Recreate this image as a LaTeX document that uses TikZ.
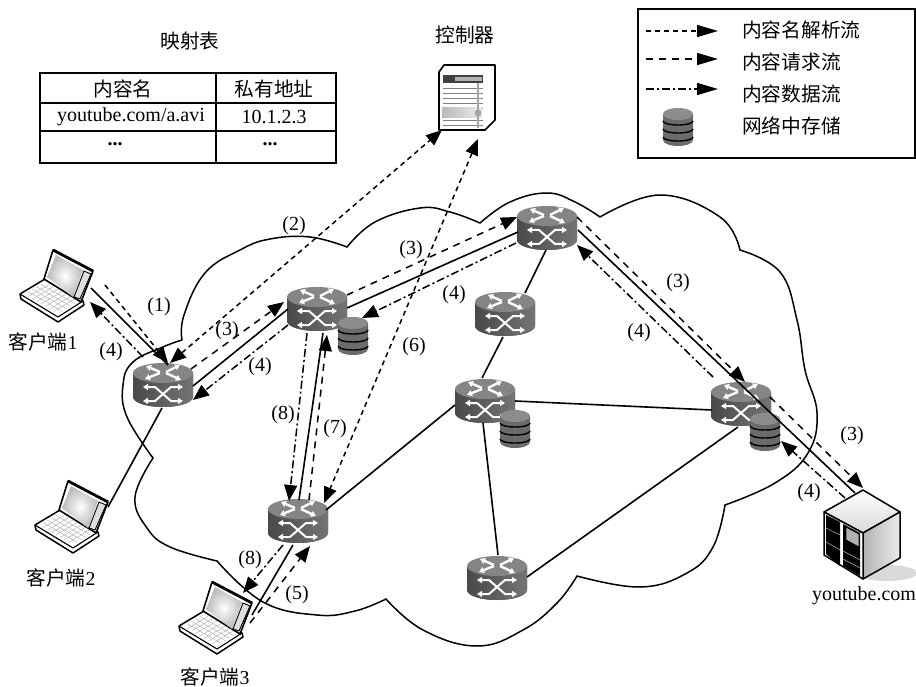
\documentclass[tikz,border=0pt]{standalone}
\usepackage{fontspec}
\setmainfont{Liberation Serif}
\newfontfamily\cjk{Noto Sans CJK SC}
\usetikzlibrary{arrows.meta,calc,shapes.geometric}
\definecolor{rtop}{gray}{0.52}
\definecolor{rbody}{gray}{0.36}
\definecolor{dbtop}{gray}{0.55}
\definecolor{dbbody}{gray}{0.42}
\tikzset{
  tip/.style={-{Triangle[length=16pt,width=13pt]}},
  twotip/.style={{Triangle[length=16pt,width=13pt]}-{Triangle[length=16pt,width=13pt]}},
  legtip/.style={-{Triangle[length=21pt,width=12pt]}},
  solidlink/.style={line width=1.6pt,black},
  cloudline/.style={line width=1.5pt,black},
  resolveflow/.style={line width=1.5pt,dash pattern=on 5pt off 4pt},
  requestflow/.style={line width=1.5pt,dash pattern=on 7pt off 6pt},
  dataflow/.style={line width=1.5pt,dash pattern=on 8pt off 3pt on 2pt off 3pt},
  devbox/.style={inner sep=0pt,outer sep=0pt,minimum width=#1,minimum height=#1},
  lbl/.style={inner sep=0pt,font=\fontsize{20}{20}\selectfont},
  cjklbl/.style={inner sep=0pt,font=\cjk\fontsize{19.7}{20}\selectfont},
  wharrow/.style={white,line width=2pt,{Triangle[length=5pt,width=6pt]}-{Triangle[length=5pt,width=6pt]}},
  whtip/.style={white,line width=2.4pt,-{Triangle[length=5pt,width=6pt]}},
  pics/router/.style={code={
    \path[fill=rbody,left color=rbody!80!black,right color=rbody!85!white] (-30,-12) -- (-30,12) arc[start angle=180,end angle=0,x radius=30,y radius=10] -- (30,-12) -- cycle;
    \fill[rtop] (0,-12) ellipse[x radius=30,y radius=10];
    \draw[whtip] (-3,-13) -- (-17,-19);
    \draw[whtip] (3,-13) -- (17,-20);
    \draw[whtip] (-3,-12) -- (-18,-6);
    \draw[whtip] (3,-12) -- (18,-5);
    \draw[wharrow] (-20,2) -- (-8,2) -- (8,16) -- (20,16);
    \draw[wharrow] (-20,16) -- (-8,16) -- (8,2) -- (20,2);
  }},
  pics/storedb/.style={code={
    \fill[dbbody] (-15,-13) -- (-15,13) arc[start angle=180,end angle=0,x radius=15,y radius=6] -- (15,-13) -- cycle;
    \fill[dbtop] (0,-13) ellipse[x radius=15,y radius=6];
    \foreach \yy in {-6,2,10}{
      \draw[line width=1.4pt] (-15,\yy) arc[start angle=180,end angle=0,x radius=15,y radius=4];
    }
  }},
  pics/laptop/.style={code={
    \draw[line width=1.5pt,fill=white,line join=round] (-40,9) -- (-39,14) -- (-2,37) -- (24,20) -- (23,16) -- (-15,-6) -- cycle;
    \draw[line width=1.1pt] (-40,9) -- (-2,32) -- (23,16);
    \foreach \i in {1,...,7}{
      \draw[gray!60,line width=.5pt] ($(-15,-3)!\i/8!(19,16)$) -- ($(-36,9)!\i/8!(-2,29)$);
    }
    \foreach \i in {1,...,4}{
      \draw[gray!60,line width=.5pt] ($(-15,-3)!\i/5!(-36,9)$) -- ($(19,16)!\i/5!(-2,29)$);
    }
    \draw[line width=1.6pt,fill=white,line join=round] (-7,-35) -- (33,-14) -- (21,17) -- (-16,-6) -- cycle;
    \draw[line width=2.8pt] (-7,-35) -- (33,-14);
    \path[inner color=white,outer color=gray!55] (-4,-30) -- (23,-15) -- (13,12) -- (-13,-8) -- cycle;
    \draw[line width=.9pt,fill=gray!25] (24,-14) -- (31,-11) -- (20,14) -- (14,12) -- cycle;
  }},
  pics/serverbox/.style={code={
    \fill[gray!30] (25,38) ellipse[x radius=30,y radius=8];
    \draw[line width=1.5pt,line join=round,bottom color=gray!30,top color=white] (1,-45) -- (-38,-23) -- (1,-2) -- (38,-23) -- cycle;
    \draw[line width=1.5pt,line join=round,left color=gray!60,right color=gray!15] (1,-2) -- (38,-23) -- (38,23) -- (1,44) -- cycle;
    \draw[line width=1.5pt,line join=round,fill=white] (-38,-23) -- (1,-2) -- (1,44) -- (-38,20) -- cycle;
    \fill[black] (-36,-20) -- (-22,-13) -- (-22,31) -- (-36,19) -- cycle;
    \fill[black] (-19,-11) -- (-2,-2) -- (-2,41) -- (-19,31) -- cycle;
    \draw[gray!70,line width=.6pt] (-36,-7) -- (-22,0) (-36,7) -- (-22,15) (-19,16) -- (-2,25) (-19,24) -- (-2,33);
    \draw[fill=gray!60,line width=.8pt] (-16,-8) -- (-3,-1) -- (-3,12) -- (-16,5) -- cycle;
  }},
  pics/ctrldoc/.style={code={
    \draw[line width=1.7pt,fill=white,line join=round] (-23,-32) -- (28,-32) -- (28,23) -- (18,33) -- (-28,33) -- (-28,-25) -- cycle;
    \fill[black!75] (-24,-22) rectangle (16,-14);
    \fill[gray!60] (-12,-20) rectangle (15,-16);
    \foreach \yy in {-9,-4,1,6,11,23,28}{
      \draw[gray,line width=.6pt] (-24,\yy) -- (16,\yy);
    }
    \fill[left color=gray!55,right color=gray!15] (-25,11) rectangle (15,21);
    \draw[gray!70,line width=1.6pt] (11,-14) -- (11,31);
    \fill[gray!70] (11,16) circle[radius=3.5];
  }},
}
\newcommand\routerat[3]{\node[devbox=45pt,minimum width=60pt] (#1) at (#2,#3) {};\pic at (#1) {router};}
\newcommand\dbat[3]{\node[devbox=30pt] (#1) at (#2,#3) {};\pic at (#1) {storedb};}
\newcommand\laptopat[3]{\node[devbox=60pt] (#1) at (#2,#3) {};\pic at (#1) {laptop};}
\begin{document}
\begin{tikzpicture}[x=1pt,y=-1pt]
\useasboundingbox (0,0) rectangle (916,687);
\fill[white] (0,0) rectangle (916,687);
% cloud
\draw[cloudline,line cap=round] plot[smooth,tension=.7] coordinates {(182,340) (163,347) (133,362) (123,385) (127,417) (153,458)};
\draw[cloudline,line cap=round] plot[smooth,tension=.7] coordinates {(153,458) (135,497) (147,528) (170,547) (217,561)};
\draw[cloudline,line cap=round] plot[smooth,tension=.7] coordinates {(217,561) (263,602) (317,615) (355,611) (386,599)};
\draw[cloudline,line cap=round] plot[smooth,tension=.7] coordinates {(386,599) (423,630) (477,646) (523,630) (557,603) (577,576)};
\draw[cloudline,line cap=round] plot[smooth,tension=.7] coordinates {(577,576) (640,587) (687,573) (713,547) (725,505)};
\draw[cloudline,line cap=round] plot[smooth,tension=.7] coordinates {(725,505) (775,483) (808,453) (817,413) (805,370) (797,320) (780,272) (740,250)};
\draw[cloudline,line cap=round] plot[smooth,tension=.7] coordinates {(600,217) (660,195) (720,217) (740,250)};
\draw[cloudline,line cap=round] plot[smooth,tension=.7] coordinates {(480,223) (510,202) (547,193) (575,202) (600,217)};
\draw[cloudline,line cap=round] plot[smooth,tension=.7] coordinates {(347,247) (375,222) (420,208) (450,212) (480,223)};
\draw[cloudline,line cap=round] plot[smooth,tension=.7] coordinates {(182,340) (184,315) (205,273) (240,250) (270,239) (310,237) (347,247)};
% devices
\routerat{r1}{163}{385}
\routerat{r2}{317}{309}
\routerat{r3}{547}{228}
\routerat{r4}{505}{314}
\routerat{r5}{485}{401}
\routerat{r6}{741}{404}
\routerat{r7}{298}{521}
\routerat{r8}{497}{578}
\dbat{d2}{353}{336}
\dbat{d5}{515}{429}
\dbat{d6}{765}{432}
\laptopat{L1}{60}{285}
\laptopat{L2}{75}{516}
\laptopat{L3}{219}{617}
\node[devbox=60pt] (srv) at (862,535) {};
\pic at (srv) {serverbox};
\node[devbox=56pt] (ctrl) at (467,97) {};
\pic at (ctrl) {ctrldoc};
% plain links
\draw[solidlink] ($(r3)+(-1,22)$) -- ($(r4)+(20,-21)$);
\draw[solidlink] ($(r4)+(-2,23)$) -- ($(r5)+(-3,-23)$);
\draw[solidlink] ($(r5)+(30,0)$) -- ($(r6)+(-29,6)$);
\draw[solidlink] ($(r5)+(-2,22)$) -- ($(r8)+(1,-23)$);
\draw[solidlink] ($(r5)+(-30,4)$) -- ($(r7)+(28,-11)$);
\draw[solidlink] ($(r8)+(30,-1)$) -- ($(r6)+(-3,23)$);
\draw[solidlink] ($(r1)+(-1,23)$) -- ($(L2)+(33,-9)$);
% client 1 - r1
\draw[solidlink] ($(L1)+(31,3)$) -- ($(r1)+(5,-20)$);
\draw[resolveflow,tip] ($(L1)+(45,0)$) -- ($(r1)+(5,-22)$);
\draw[dataflow,tip] ($(r1)+(-20,-28)$) -- ($(L1)+(30,17)$);
% controller
\draw[resolveflow,twotip] ($(r1)+(7,-22)$) -- ($(ctrl)+(-25,33)$);
\draw[resolveflow,twotip] ($(ctrl)+(11,42)$) -- ($(r7)+(26,-18)$);
% r1 - r2
\draw[requestflow,tip] ($(r1)+(28,-16)$) -- ($(r2)+(-33,-7)$);
\draw[solidlink] ($(r1)+(30,1)$) -- ($(r2)+(-29,0)$);
\draw[dataflow,tip] ($(r2)+(-29,16)$) -- ($(r1)+(30,15)$);
% r2 - r3
\draw[requestflow,tip] ($(r2)+(30,-14)$) -- ($(r3)+(-30,-11)$);
\draw[solidlink] ($(r2)+(30,-1)$) -- ($(r3)+(-29,4)$);
\draw[dataflow,tip] ($(r3)+(-31,15)$) -- ($(d2)+(9,-18)$);
% r3 - r6 - server
\draw[solidlink] ($(r3)+(31,2)$) -- ($(srv)+(-7,-42)$);
\draw[requestflow,tip] ($(r3)+(30,-11)$) -- ($(r6)+(4,-22)$);
\draw[dataflow,tip] ($(r6)+(-28,-27)$) -- ($(r3)+(30,17)$);
\draw[requestflow,tip] ($(r6)+(29,-7)$) -- ($(srv)+(1,-47)$);
\draw[dataflow,tip] ($(srv)+(-17,-37)$) -- ($(d6)+(16,9)$);
% r2 - r7
\draw[solidlink] ($(r2)+(6,24)$) -- ($(r7)+(1,-21)$);
\draw[dataflow,tip] ($(r2)+(-10,24)$) -- ($(r7)+(-9,-20)$);
\draw[requestflow,tip] ($(r7)+(11,-21)$) -- ($(r2)+(10,26)$);
% r7 - client 3
\draw[solidlink] ($(r7)+(-5,24)$) -- ($(L3)+(33,-2)$);
\draw[dataflow,tip] ($(r7)+(-15,24)$) -- ($(L3)+(24,-24)$);
\draw[requestflow,tip] ($(L3)+(31,6)$) -- ($(r7)+(12,25)$);
% labels
\node[lbl] (n1) at (159,307) {(1)};
\node[lbl] (n2) at (294,226) {(2)};
\node[lbl] (n3) at (227,331) {(3)};
\node[lbl] (n4) at (111,352) {(4)};
\node[lbl] (n5) at (260,367) {(4)};
\node[lbl] (n6) at (411,250) {(3)};
\node[lbl] (n7) at (454,295) {(4)};
\node[lbl] (n8) at (283,415) {(8)};
\node[lbl] (n9) at (335,429) {(7)};
\node[lbl] (n10) at (414,347) {(6)};
\node[lbl] (n11) at (678,283) {(3)};
\node[lbl] (n12) at (639,333) {(4)};
\node[lbl] (n13) at (852,436) {(3)};
\node[lbl] (n14) at (809,493) {(4)};
\node[lbl] (n15) at (250,560) {(8)};
\node[lbl] (n16) at (297,595) {(5)};
\node[cjklbl] (c1) at (43,342) {客户端\rmfamily 1};
\node[cjklbl] (c2) at (61,578) {客户端\rmfamily 2};
\node[cjklbl] (c3) at (215,677) {客户端\rmfamily 3};
\node[lbl] (yt) at (864,596) {youtube.com};
\node[cjklbl] (ctitle) at (465,35) {控制器};
% mapping table
\node[cjklbl] (ttitle) at (190,41) {映射表};
\draw[line width=1.7pt] (40,73) rectangle (336,163);
\draw[line width=1.7pt] (40,103) -- (336,103) (40,131) -- (336,131) (216,73) -- (216,163);
\node[cjklbl] (th1) at (123,89) {内容名};
\node[cjklbl] (th2) at (274,89) {私有地址};
\node[lbl] (td1) at (131,117) {youtube.com/a.avi};
\node[lbl] (td2) at (274,117) {10.1.2.3};
\node[lbl,font=\fontsize{20}{20}\selectfont\bfseries] (td3) at (115,144) {...};
\node[lbl,font=\fontsize{20}{20}\selectfont\bfseries] (td4) at (270,144) {...};
% legend
\draw[line width=1.7pt] (638,9) rectangle (915,158);
\coordinate (la1) at (646,31);\coordinate (la2) at (718,31);
\coordinate (lb1) at (646,59);\coordinate (lb2) at (718,59);
\coordinate (lc1) at (646,89);\coordinate (lc2) at (718,89);
\draw[resolveflow,legtip] (la1) -- (la2);
\draw[requestflow,legtip] (lb1) -- (lb2);
\draw[dataflow,legtip] (lc1) -- (lc2);
\dbat{ldb}{678}{127}
\node[cjklbl,anchor=west] (l1) at (742,30) {内容名解析流};
\node[cjklbl,anchor=west] (l2) at (742,62) {内容请求流};
\node[cjklbl,anchor=west] (l3) at (742,94) {内容数据流};
\node[cjklbl,anchor=west] (l4) at (742,126) {网络中存储};
\end{tikzpicture}
\end{document}
